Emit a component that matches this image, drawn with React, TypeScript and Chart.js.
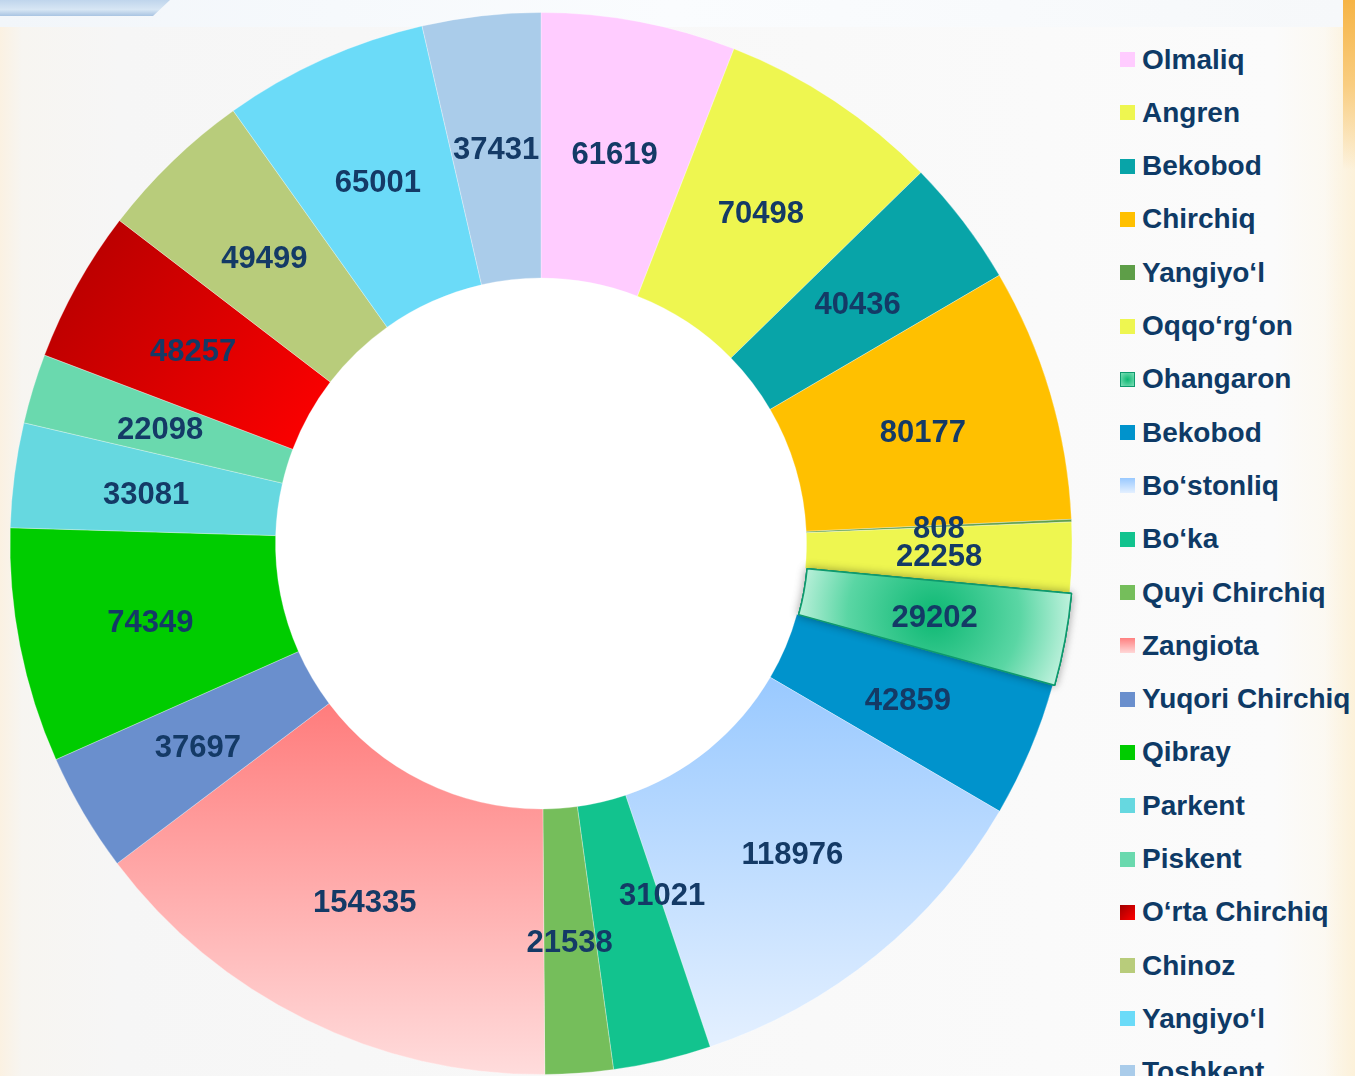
import React, { useEffect, useRef } from "react";
import { Chart, registerables } from "chart.js";

Chart.register(...registerables);

const labels: string[] = [
  "Olmaliq", "Angren", "Bekobod", "Chirchiq", "Yangiyo‘l", "Oqqo‘rg‘on", "Ohangaron",
  "Bekobod", "Bo‘stonliq", "Bo‘ka", "Quyi Chirchiq", "Zangiota", "Yuqori Chirchiq",
  "Qibray", "Parkent", "Piskent", "O‘rta Chirchiq", "Chinoz", "Yangiyo‘l", "Toshkent",
];

const values: number[] = [
  61619, 70498, 40436, 80177, 808, 22258, 29202, 42859, 118976, 31021, 21538,
  154335, 37697, 74349, 33081, 22098, 48257, 49499, 65001, 37431,
];

const colors: string[] = [
  "#FFCCFF", "#EEF650", "#08A4A8", "#FFC000", "#5E9E48", "#EEF650", "#2CC88A",
  "#0093CC", "#B4D8FF", "#12C38E", "#75BE5B", "#FFA8A8", "#6A8FCD", "#00CC00",
  "#66D8E0", "#6AD9AE", "#E00000", "#B8CC7B", "#6BDBF8", "#AACCEA",
];

// legend swatch styles (css backgrounds for the gradient-filled slices)
const swatchBg: Record<number, string> = {
  6: "radial-gradient(circle, #0DB873 0%, #7EE0B8 100%)",
  8: "linear-gradient(180deg, #99C9FF, #E4F0FF)",
  11: "linear-gradient(180deg, #FF8080, #FFD8D8)",
  16: "linear-gradient(135deg, #A00000, #FF0000)",
};

// manual label nudges (as in the source, where one label was moved to avoid overlap)
const labelNudge: Record<number, [number, number]> = {
  9: [30, -38],
};

const OUTER = 531;
const LABEL_COLOR = "#143A66";

function sliceBg(ctx: any) {
  const chart = ctx.chart;
  const i = ctx.dataIndex;
  const area = chart.chartArea;
  if (!area) return colors[i];
  const c = chart.ctx as CanvasRenderingContext2D;
  const cx = (area.left + area.right) / 2;
  const cy = (area.top + area.bottom) / 2;
  const R = OUTER;
  if (i === 8) {
    const g = c.createLinearGradient(0, cy + 0.25 * R, 0, cy + 0.95 * R);
    g.addColorStop(0, "#99C9FF");
    g.addColorStop(1, "#E4F0FF");
    return g;
  }
  if (i === 11) {
    const g = c.createLinearGradient(0, cy + 0.3 * R, 0, cy + R);
    g.addColorStop(0, "#FF7C7C");
    g.addColorStop(1, "#FFDCDC");
    return g;
  }
  if (i === 16) {
    const g = c.createLinearGradient(cx - 0.93 * R, cy - 0.6 * R, cx - 0.4 * R, cy - 0.2 * R);
    g.addColorStop(0, "#B00000");
    g.addColorStop(1, "#FF0000");
    return g;
  }
  if (i === 6) {
    const total = values.reduce((a, b) => a + b, 0);
    let before = 0;
    for (let k = 0; k < i; k++) before += values[k];
    const a = ((before + values[i] / 2) / total) * Math.PI * 2;
    const rm = 0.75 * R;
    const x = cx + rm * Math.sin(a);
    const y = cy - rm * Math.cos(a);
    const g = c.createRadialGradient(x, y, 0, x, y, 0.27 * R);
    g.addColorStop(0, "#0DB873");
    g.addColorStop(0.6, "#5AD6A4");
    g.addColorStop(1, "#C8F4E2");
    return g;
  }
  return colors[i];
}

const holePlugin = {
  id: "holeAndLabels",
  beforeDatasetsDraw(chart: any) {
    const meta = chart.getDatasetMeta(0);
    const arc = meta.data[0];
    if (!arc) return;
    const { x, y, innerRadius } = arc.getProps(["x", "y", "innerRadius"]);
    const c = chart.ctx;
    c.save();
    c.fillStyle = "#FFFFFF";
    c.beginPath();
    c.arc(x, y, innerRadius + 1, 0, Math.PI * 2);
    c.fill();
    c.restore();
  },
  afterDatasetsDraw(chart: any) {
    const meta = chart.getDatasetMeta(0);
    const c = chart.ctx as CanvasRenderingContext2D;
    // redraw highlighted slice with a soft shadow
    const hl = meta.data[6];
    if (hl) {
      c.save();
      c.shadowColor = "rgba(0,0,0,0.35)";
      c.shadowBlur = 10;
      hl.draw(c);
      c.restore();
      c.save();
      hl.draw(c);
      c.restore();
    }
    c.save();
    c.font = "bold 31px 'Liberation Sans', Arial, sans-serif";
    c.fillStyle = LABEL_COLOR;
    c.textAlign = "center";
    c.textBaseline = "middle";
    meta.data.forEach((arc: any, i: number) => {
      const p = arc.tooltipPosition(false);
      const n = labelNudge[i] || [0, 0];
      c.fillText(String(values[i]), p.x + n[0], p.y + 3 + n[1]);
    });
    c.restore();
  },
};

function DonutChart() {
  const ref = useRef<HTMLCanvasElement | null>(null);
  useEffect(() => {
    if (!ref.current) return;
    const chart = new Chart(ref.current, {
      type: "doughnut",
      data: {
        labels,
        datasets: [
          {
            data: values,
            backgroundColor: sliceBg as any,
            borderColor: values.map((_, i) => (i === 6 ? "#0E9A6E" : "rgba(255,255,255,0.6)")),
            borderWidth: values.map((_, i) => (i === 6 ? 1.5 : 0.5)),
            offset: values.map((_, i) => (i === 6 ? 4 : 0)),
            hoverOffset: 0,
          },
        ],
      },
      options: {
        responsive: false,
        animation: false,
        devicePixelRatio: 1,
        radius: OUTER,
        cutout: "50%",
        layout: { padding: 0 },
        plugins: {
          legend: { display: false },
          tooltip: { enabled: false },
        },
        events: [],
      } as any,
      plugins: [holePlugin],
    });
    return () => chart.destroy();
  }, []);
  return (
    <canvas
      ref={ref}
      width={1082}
      height={1087}
      style={{ position: "absolute", left: 0, top: 0, width: 1082, height: 1087 }}
    />
  );
}

export default function App() {
  return (
    <div
      style={{
        position: "fixed",
        left: 0,
        top: 0,
        width: 1355,
        height: 1076,
        overflow: "hidden",
        background:
          "linear-gradient(90deg, #FBF1E2 0px, #F7F5F1 22px, #F6F6F6 120px, #F9F9F9 60%, #FBFBFB 94%, #FCF7EC 100%)",
        fontFamily: "'Liberation Sans', Arial, sans-serif",
      }}
    >
      <div
        style={{
          position: "absolute",
          right: 0,
          top: 0,
          width: 30,
          height: 1076,
          background: "linear-gradient(90deg, rgba(252,242,220,0), rgba(252,240,214,0.85))",
        }}
      />
      <div
        style={{
          position: "absolute",
          right: 0,
          top: 0,
          width: 12,
          height: 170,
          background: "linear-gradient(180deg, #F6B445 0%, #F9CD80 50%, rgba(252,236,200,0) 100%)",
        }}
      />
      <div
        style={{
          position: "absolute",
          left: 0,
          top: 0,
          width: 1343,
          height: 27,
          background: "linear-gradient(90deg, #F2F6FA, #FAFCFE 50%, #F6F8FA)",
        }}
      />
      <div
        style={{
          position: "absolute",
          left: 0,
          top: 0,
          width: 170,
          height: 16,
          background: "linear-gradient(180deg, #BFD5EC, #D7E6F4 60%, #A9C4E2)",
          clipPath: "polygon(0 0, 100% 0, 90% 100%, 0 100%)",
        }}
      />
      <DonutChart />
      {labels.map((name, i) => {
        const cy = 59.5 + 53.3 * i;
        return (
          <div key={i}>
            <div
              style={{
                position: "absolute",
                left: 1120,
                top: cy - 7.5,
                width: 15,
                height: 15,
                boxSizing: "border-box",
                background: swatchBg[i] || colors[i],
                border: i === 6 ? "1px solid #0E9A6E" : "none",
              }}
            />
            <div
              style={{
                position: "absolute",
                left: 1142,
                top: cy - 15,
                height: 30,
                lineHeight: "30px",
                fontSize: 28,
                fontWeight: "bold",
                color: "#0E3A66",
                whiteSpace: "nowrap",
              }}
            >
              {name}
            </div>
          </div>
        );
      })}
    </div>
  );
}
